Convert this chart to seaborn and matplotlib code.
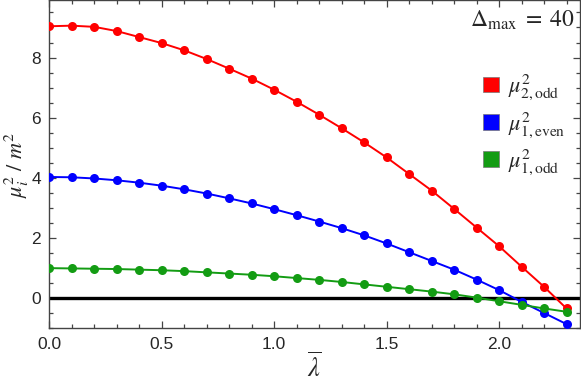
import numpy as np
import pandas as pd
import matplotlib
matplotlib.use("Agg")
import matplotlib.pyplot as plt
import seaborn as sns
from matplotlib.patches import Patch
from matplotlib.ticker import MultipleLocator

lam = [0.0, 0.1, 0.2, 0.3, 0.4, 0.5, 0.6, 0.7, 0.8, 0.9, 1.0, 1.1,
       1.2, 1.3, 1.4, 1.5, 1.6, 1.7, 1.8, 1.9, 2.0, 2.1, 2.2, 2.3]
mu2_2odd = [9.04, 9.06, 9.02, 8.88, 8.68, 8.48, 8.24, 7.95, 7.63, 7.30, 6.93, 6.53,
            6.10, 5.65, 5.18, 4.68, 4.13, 3.58, 2.97, 2.35, 1.73, 1.05, 0.38, -0.34]
mu2_1even = [4.03, 4.02, 3.98, 3.92, 3.84, 3.74, 3.62, 3.48, 3.32, 3.15, 2.96, 2.76,
             2.55, 2.33, 2.09, 1.82, 1.53, 1.24, 0.95, 0.62, 0.27, -0.12, -0.49, -0.86]
mu2_1odd = [1.00, 0.99, 0.98, 0.97, 0.95, 0.93, 0.90, 0.86, 0.82, 0.78, 0.73, 0.67,
            0.61, 0.54, 0.46, 0.38, 0.30, 0.22, 0.13, 0.02, -0.10, -0.22, -0.34, -0.45]
series_labels = [r"$\mu^2_{2,\mathrm{odd}}$", r"$\mu^2_{1,\mathrm{even}}$", r"$\mu^2_{1,\mathrm{odd}}$"]
colors = ["#ff0000", "#0000ff", "#139c13"]

df = pd.concat([
    pd.DataFrame({"lam": lam, "mu2": mu2_2odd, "series": "2odd"}),
    pd.DataFrame({"lam": lam, "mu2": mu2_1even, "series": "1even"}),
    pd.DataFrame({"lam": lam, "mu2": mu2_1odd, "series": "1odd"}),
])

sns.set_style("ticks")
plt.rcParams["mathtext.fontset"] = "stix"
plt.rcParams["font.family"] = ["Liberation Sans", "DejaVu Sans"]

fig = plt.figure(figsize=(5.81, 3.86), dpi=100)
ax = fig.add_axes([49.3 / 581, 1 - 328.3 / 386, (580 - 49.3) / 581, 328.3 / 386 - 0.001])

ax.axhline(0, color="black", lw=2.4, zorder=1)
sns.lineplot(data=df, x="lam", y="mu2", hue="series", palette=dict(zip(["2odd", "1even", "1odd"], colors)),
             marker="o", markersize=6.5, markeredgewidth=0, linewidth=1.4, legend=False, ax=ax, zorder=3)

ax.set_xlim(0, 2.36)
ax.set_ylim(-1, 9.9)
ax.xaxis.set_major_locator(MultipleLocator(0.5))
ax.xaxis.set_minor_locator(MultipleLocator(0.1))
ax.yaxis.set_major_locator(MultipleLocator(2))
ax.yaxis.set_minor_locator(MultipleLocator(0.5))
ax.tick_params(which="both", direction="in", top=True, right=True, color="#444444", width=0.9)
ax.tick_params(which="major", length=5, labelsize=12.5, pad=6)
ax.tick_params(which="minor", length=3)
for s in ax.spines.values():
    s.set_color("#444444")
    s.set_linewidth(1.0)
ax.xaxis.set_major_formatter(matplotlib.ticker.FormatStrFormatter("%.1f"))
ax.yaxis.set_major_formatter(matplotlib.ticker.FormatStrFormatter("%d"))

ax.set_xlabel(r"$\overline{\lambda}$", fontsize=19, labelpad=0)
ax.set_ylabel("")
fig.text(17 / 581, 1 - 165 / 386, r"$\mu_i^2\ /\ m^2$", rotation=90, ha="center", va="center", fontsize=16)

ax.text(0.99, 0.975, r"$\Delta_{\max}\;=\;40$", transform=ax.transAxes, ha="right", va="top", fontsize=17)

handles = [Patch(facecolor=c, edgecolor="#777777", linewidth=0.5) for c in colors]
ax.legend(handles, series_labels, loc="upper right", bbox_to_anchor=(1.01, 0.84), frameon=False,
          fontsize=16, handlelength=0.7, handleheight=0.7, handletextpad=0.4, labelspacing=0.35)

fig.savefig("out.png", dpi=100)
